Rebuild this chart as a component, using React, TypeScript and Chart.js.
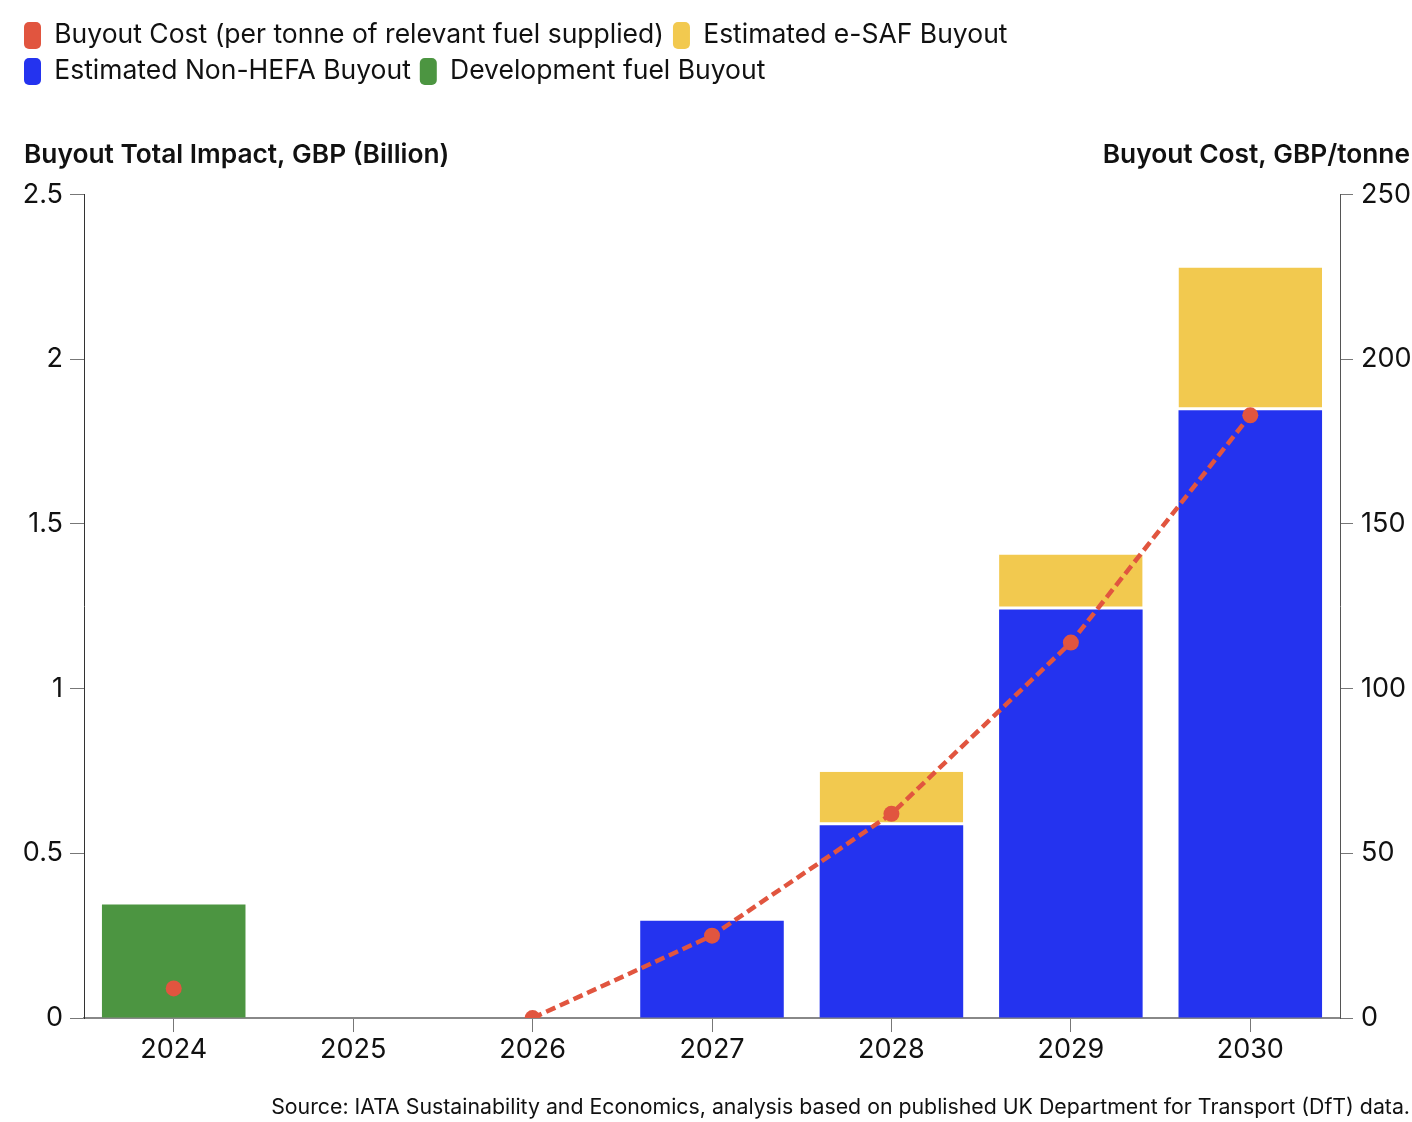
import React, { useRef, useEffect } from 'react';
import { Chart, registerables } from 'chart.js';

Chart.register(...registerables);

const years = ['2024', '2025', '2026', '2027', '2028', '2029', '2030'];
// GBP per tonne, right axis
const buyoutCost = [9, null, 0, 25, 62, 114, 183];
// GBP billion, left axis
const devFuelBuyout = [0.345, null, null, null, null, null, null];
const nonHefaBuyout = [null, null, null, 0.295, 0.585, 1.24, 1.845];
const eSafBuyout = [null, null, null, null, 0.163, 0.167, 0.434];

const RED = '#e1553f';
const YELLOW = '#f2c94f';
const BLUE = '#2433ef';
const GREEN = '#4c9541';
const FONT = 'Inter, "Noto Sans", sans-serif';

const leftTitle = 'Buyout Total Impact, GBP (Billion)';
const rightTitle = 'Buyout Cost, GBP/tonne';
const source =
  'Source: IATA Sustainability and Economics, analysis based on published UK Department for Transport (DfT) data.';

// legend shows line, e-SAF, non-HEFA, development (stack order is the reverse)
const legendRank: { [k: number]: number } = { 0: 0, 3: 1, 2: 2, 1: 3 };

const axisTitles = {
  id: 'axisTitles',
  afterDraw(chart: any) {
    const { ctx, chartArea } = chart;
    const y = chartArea.top - 40;
    ctx.save();
    ctx.font = `600 26.3px ${FONT}`;
    ctx.fillStyle = '#111';
    ctx.textBaseline = 'middle';
    ctx.textAlign = 'left';
    ctx.fillText(leftTitle, 24, y);
    ctx.textAlign = 'right';
    ctx.fillText(rightTitle, chart.width - 2, y);
    ctx.restore();
  },
};

const App: React.FC = () => {
  const canvasRef = useRef<HTMLCanvasElement | null>(null);

  useEffect(() => {
    document.body.style.margin = '0';
    if (!canvasRef.current) return;

    const chart = new Chart(canvasRef.current, {
      type: 'bar',
      data: {
        labels: years,
        datasets: [
          {
            type: 'line',
            label: 'Buyout Cost (per tonne of relevant fuel supplied)',
            data: buyoutCost,
            yAxisID: 'y1',
            borderColor: RED,
            backgroundColor: RED,
            borderWidth: 4.5,
            borderDash: [10, 5],
            pointRadius: 8,
            pointBorderWidth: 0,
            pointBackgroundColor: RED,
            clip: { left: 20, right: 20, top: 20, bottom: 0 },
          } as any,
          {
            label: 'Development fuel Buyout',
            data: devFuelBuyout,
            backgroundColor: GREEN,
            yAxisID: 'y',
          },
          {
            label: 'Estimated Non-HEFA Buyout',
            data: nonHefaBuyout,
            backgroundColor: BLUE,
            yAxisID: 'y',
          },
          {
            label: 'Estimated e-SAF Buyout',
            data: eSafBuyout,
            backgroundColor: YELLOW,
            borderColor: '#ffffff',
            borderWidth: { top: 0, left: 0, right: 0, bottom: 3 },
            borderSkipped: false,
            yAxisID: 'y',
          },
        ],
      },
      options: {
        animation: false,
        responsive: true,
        maintainAspectRatio: false,
        datasets: {
          bar: {
            barPercentage: 0.8,
            categoryPercentage: 1,
          },
        },
        layout: {
          padding: { top: 13, left: 15, right: 2, bottom: 0 },
        },
        scales: {
          x: {
            stacked: true,
            grid: {
              display: true,
              offset: false,
              drawOnChartArea: false,
              drawTicks: true,
              tickLength: 14,
              color: '#777',
            },
            border: { color: '#888', width: 2 },
            ticks: {
              color: '#111',
              padding: 2,
              font: { family: FONT, size: 27 },
            },
          },
          y: {
            stacked: true,
            position: 'left',
            min: 0,
            max: 2.5,
            afterFit: (scale: any) => {
              scale.width = 69;
            },
            grid: {
              display: true,
              drawOnChartArea: false,
              drawTicks: true,
              tickLength: 14,
              color: '#777',
            },
            border: { color: '#333', width: 1 },
            ticks: {
              stepSize: 0.5,
              color: '#111',
              padding: 7,
              font: { family: FONT, size: 27 },
              callback: (v: any) => String(v),
            },
          },
          y1: {
            position: 'right',
            min: 0,
            max: 250,
            afterFit: (scale: any) => {
              scale.width = 70;
            },
            grid: {
              display: true,
              drawOnChartArea: false,
              drawTicks: true,
              tickLength: 13,
              color: '#777',
            },
            border: { color: '#555', width: 1 },
            ticks: {
              stepSize: 50,
              color: '#111',
              padding: 8,
              font: { family: FONT, size: 27 },
              callback: (v: any) => String(v),
            },
          },
        },
        plugins: {
          legend: {
            position: 'top',
            align: 'start',
            weight: 3000,
            labels: {
              color: '#111',
              font: { family: FONT, size: 26.5 },
              boxWidth: 17,
              boxHeight: 27,
              padding: 9,
              useBorderRadius: true,
              borderRadius: 5,
              sort: (a: any, b: any) => legendRank[a.datasetIndex] - legendRank[b.datasetIndex],
              generateLabels: (c: any) =>
                Chart.defaults.plugins.legend.labels.generateLabels(c).map((item: any) => ({
                  ...item,
                  lineWidth: 0,
                  lineDash: [],
                  strokeStyle: item.fillStyle,
                })),
            },
          } as any,
          title: {
            display: true,
            text: ' ',
            font: { family: FONT, size: 25.5, weight: 'bold' },
            padding: { top: 43, bottom: 26 },
          },
          subtitle: {
            display: true,
            position: 'bottom',
            align: 'end',
            text: source,
            color: '#111',
            font: { family: FONT, size: 21.3 },
            padding: { top: 26, bottom: 2 },
          },
          tooltip: { enabled: false },
        },
      },
      plugins: [axisTitles],
    });

    return () => {
      chart.destroy();
    };
  }, []);

  return (
    <div style={{ width: 1412, height: 1122, position: 'relative' }}>
      <canvas ref={canvasRef}></canvas>
    </div>
  );
};

export default App;
